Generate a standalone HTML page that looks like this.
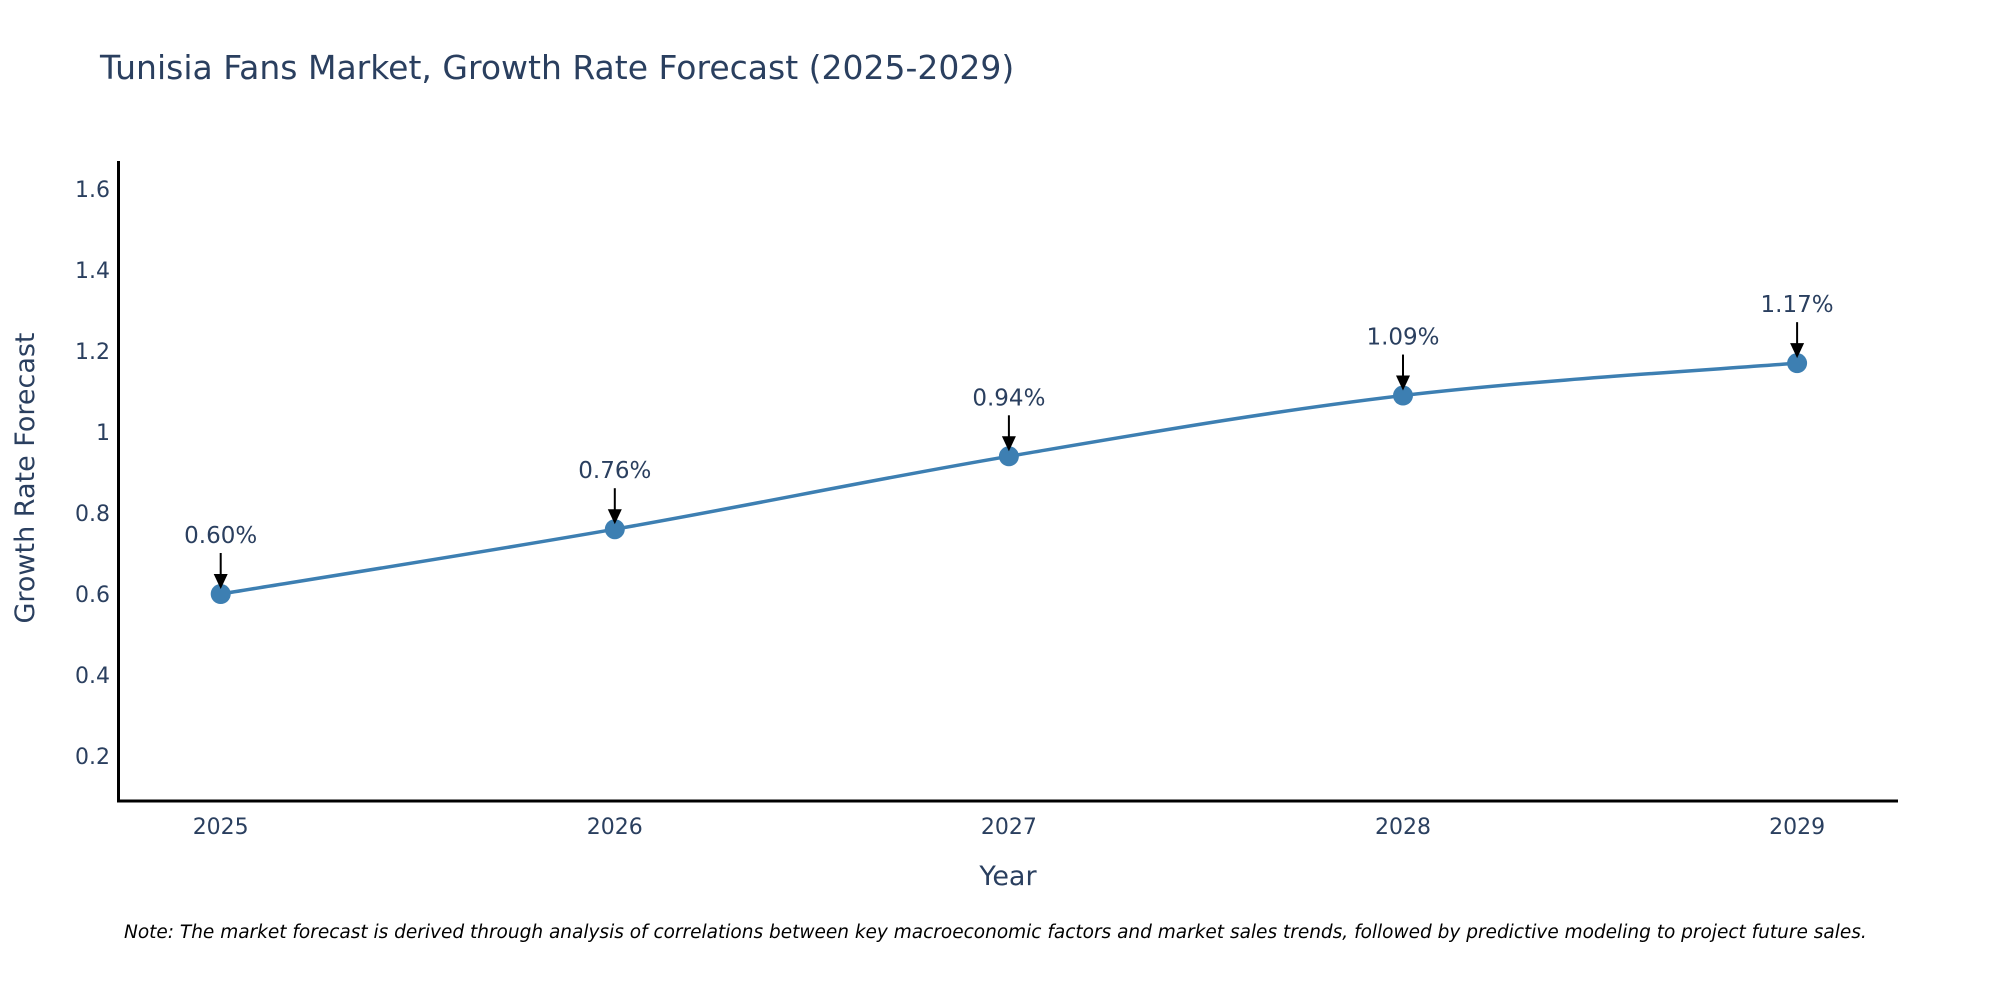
<!DOCTYPE html>
<html><head><meta charset="utf-8"><style>
html,body{margin:0;padding:0;background:#fff;}
svg{display:block;font-family:"DejaVu Sans","Liberation Sans",sans-serif;}
</style></head><body>
<svg id="chart" width="2000" height="1000">
<text x="100" y="79" font-size="33" fill="#2a3f5f">Tunisia Fans Market, Growth Rate Forecast (2025-2029)</text>
<g id="yticks"></g>
<g id="xticks"></g>
<line x1="118.5" y1="161" x2="118.5" y2="802" stroke="#000" stroke-width="3"/>
<line x1="117" y1="801" x2="1898" y2="801" stroke="#000" stroke-width="3"/>
<g id="series"></g>
<g id="annots"></g>
<text x="1008" y="885" font-size="27" fill="#2a3f5f" text-anchor="middle">Year</text>
<text transform="translate(34,478) rotate(-90)" font-size="27" fill="#2a3f5f" text-anchor="middle">Growth Rate Forecast</text>
<text x="124" y="938" font-size="18.5" font-style="italic" fill="#000">Note: The market forecast is derived through analysis of correlations between key macroeconomic factors and market sales trends, followed by predictive modeling to project future sales.</text>
</svg>
<script>
const years = [2025, 2026, 2027, 2028, 2029];
const growth = [0.60, 0.76, 0.94, 1.09, 1.17];
const labels = ["0.60%", "0.76%", "0.94%", "1.09%", "1.17%"];
const yTickVals = [0.2, 0.4, 0.6, 0.8, 1, 1.2, 1.4, 1.6];
const yTickLabels = ["0.2", "0.4", "0.6", "0.8", "1", "1.2", "1.4", "1.6"];

const NS = "http://www.w3.org/2000/svg";
function xS(v){ return 220.7 + (v - 2025) * 394.1; }
function yS(v){ return 837 - v * 405; }
function mk(tag, attrs, parent){
  const e = document.createElementNS(NS, tag);
  for (const k in attrs) e.setAttribute(k, attrs[k]);
  parent.appendChild(e); return e;
}
const yt = document.getElementById('yticks');
yTickVals.forEach((v,i)=>{
  const t = mk('text',{x:110,y:yS(v)+8,'font-size':22,fill:'#2a3f5f','text-anchor':'end'},yt);
  
  
  t.textContent = yTickLabels[i];
});
const xt = document.getElementById('xticks');
years.forEach(v=>{
  const t = mk('text',{x:xS(v),y:834,'font-size':22,fill:'#2a3f5f','text-anchor':'middle'},xt);
  
  
  t.textContent = String(v);
});
const pts = years.map((y,i)=>[xS(y), yS(growth[i])]);
let d = 'M' + pts[0][0] + ',' + pts[0][1];
const s = 0.17;
for (let i=0;i<pts.length-1;i++){
  const p0 = pts[Math.max(0,i-1)], p1 = pts[i], p2 = pts[i+1], p3 = pts[Math.min(pts.length-1,i+2)];
  const c1 = [p1[0]+(p2[0]-p0[0])*s, p1[1]+(p2[1]-p0[1])*s];
  const c2 = [p2[0]-(p3[0]-p1[0])*s, p2[1]-(p3[1]-p1[1])*s];
  d += ' C' + c1.join(',') + ' ' + c2.join(',') + ' ' + p2.join(',');
}
const ser = document.getElementById('series');
const path = mk('path',{d:d,fill:'none',stroke:'#3d7fb2','stroke-width':3.5},ser);


pts.forEach(p=>{
  const c = mk('circle',{cx:p[0],cy:p[1],r:10,fill:'#3d7fb2'},ser);
  
  
});
const an = document.getElementById('annots');
pts.forEach((p,i)=>{
  const g = mk('g',{},an);
  
  
  mk('line',{x1:p[0],y1:p[1]-41,x2:p[0],y2:p[1]-18,stroke:'#000','stroke-width':2},g);
  mk('polygon',{points:(p[0]-7)+','+(p[1]-20)+' '+(p[0]+7)+','+(p[1]-20)+' '+p[0]+','+(p[1]-5),fill:'#000'},g);
  const t = mk('text',{x:p[0],y:p[1]-51,'font-size':23,fill:'#2a3f5f','text-anchor':'middle'},g);
  t.textContent = labels[i];
});
</script>
</body></html>
